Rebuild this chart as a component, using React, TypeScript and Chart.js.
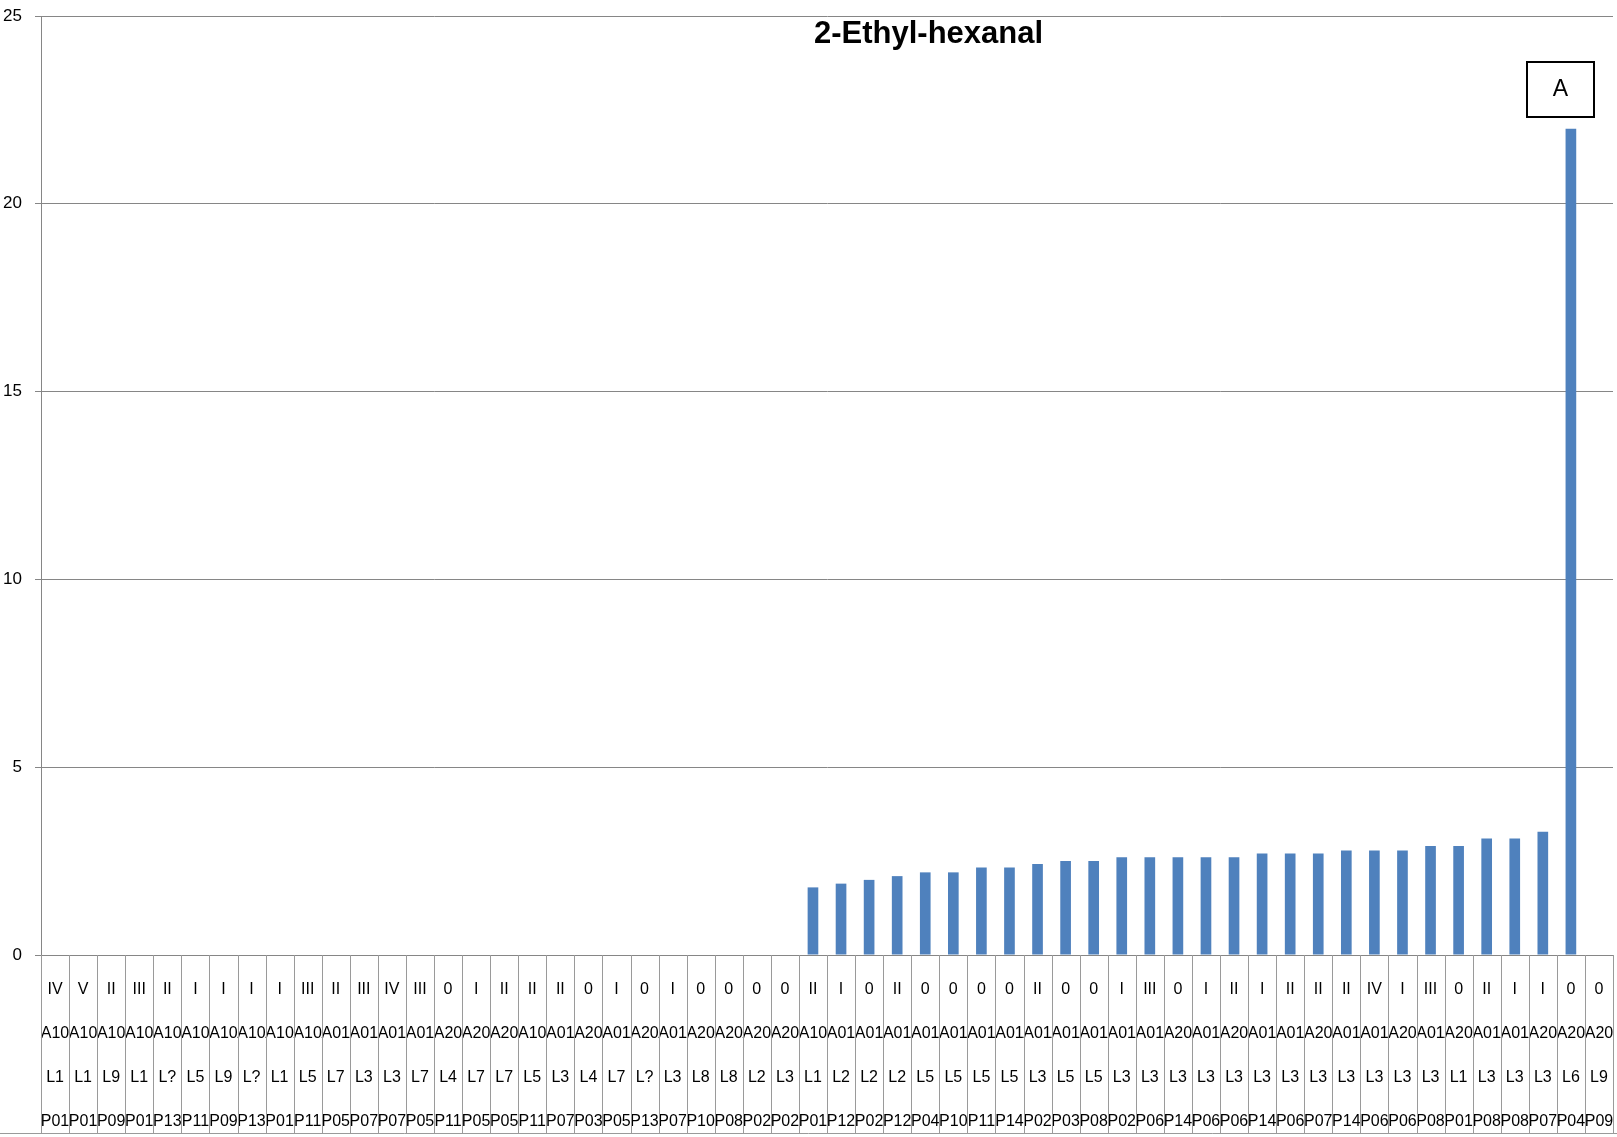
import { useEffect, useRef } from "react";
import { Chart, registerables } from "chart.js";

Chart.register(...registerables);

const classes = ["IV","V","II","III","II","I","I","I","I","III","II","III","IV","III","0","I","II","II","II","0","I","0","I","0","0","0","0","II","I","0","II","0","0","0","0","II","0","0","I","III","0","I","II","I","II","II","II","IV","I","III","0","II","I","I","0","0"];
const sites = ["A10","A10","A10","A10","A10","A10","A10","A10","A10","A10","A01","A01","A01","A01","A20","A20","A20","A10","A01","A20","A01","A20","A01","A20","A20","A20","A20","A10","A01","A01","A01","A01","A01","A01","A01","A01","A01","A01","A01","A01","A20","A01","A20","A01","A01","A20","A01","A01","A20","A01","A20","A01","A01","A20","A20","A20"];
const lines = ["L1","L1","L9","L1","L?","L5","L9","L?","L1","L5","L7","L3","L3","L7","L4","L7","L7","L5","L3","L4","L7","L?","L3","L8","L8","L2","L3","L1","L2","L2","L2","L5","L5","L5","L5","L3","L5","L5","L3","L3","L3","L3","L3","L3","L3","L3","L3","L3","L3","L3","L1","L3","L3","L3","L6","L9"];
const plots = ["P01","P01","P09","P01","P13","P11","P09","P13","P01","P11","P05","P07","P07","P05","P11","P05","P05","P11","P07","P03","P05","P13","P07","P10","P08","P02","P02","P01","P12","P02","P12","P04","P10","P11","P14","P02","P03","P08","P02","P06","P14","P06","P06","P14","P06","P07","P14","P06","P06","P08","P01","P08","P08","P07","P04","P09"];
const values = [0,0,0,0,0,0,0,0,0,0,0,0,0,0,0,0,0,0,0,0,0,0,0,0,0,0,0,1.8,1.9,2.0,2.1,2.2,2.2,2.33,2.33,2.42,2.5,2.5,2.6,2.6,2.6,2.6,2.6,2.7,2.7,2.7,2.78,2.78,2.78,2.9,2.9,3.1,3.1,3.28,22,0];
const yTicks = [0, 5, 10, 15, 20, 25];
const chartTitle = "2-Ethyl-hexanal";
const boxLabel = "A";

const FONT = '"Liberation Sans", Arial, sans-serif';
const GRID = "#868686";

export default function App() {
  const ref = useRef<HTMLCanvasElement>(null);

  useEffect(() => {
    document.body.style.margin = "0";
    const canvas = ref.current!;
    const labels = classes.map((c, i) => [c, sites[i], lines[i], plots[i]]);

    const tablePlugin = {
      id: "tableAndNotes",
      afterDraw(chart: any) {
        const ctx = chart.ctx as CanvasRenderingContext2D;
        const xs = chart.scales.x;
        const area = chart.chartArea;
        const n = labels.length;
        const top = area.bottom;
        const bottom = area.bottom + 178;
        ctx.save();
        ctx.strokeStyle = "#9a9a9a";
        ctx.lineWidth = 1;
        for (let i = 0; i <= n; i++) {
          const x = Math.round(xs.left + (i * xs.width) / n) + 0.5;
          ctx.beginPath();
          ctx.moveTo(x, top);
          ctx.lineTo(x, bottom);
          ctx.stroke();
        }
        ctx.beginPath();
        ctx.moveTo(0, bottom + 0.5);
        ctx.lineTo(chart.width, bottom + 0.5);
        ctx.stroke();

        // title
        ctx.fillStyle = "#000";
        ctx.font = `bold 31px ${FONT}`;
        ctx.textAlign = "center";
        ctx.textBaseline = "alphabetic";
        ctx.fillText(chartTitle, area.left + 0.5646 * area.width, 43);

        // "A" box
        const bx = area.right - 86;
        const by = 62;
        ctx.strokeStyle = "#000";
        ctx.lineWidth = 2;
        ctx.fillStyle = "#fff";
        ctx.fillRect(bx, by, 67, 55);
        ctx.strokeRect(bx, by, 67, 55);
        ctx.fillStyle = "#000";
        ctx.font = `23px ${FONT}`;
        ctx.textBaseline = "middle";
        ctx.fillText(boxLabel, bx + 33.5, by + 28);
        ctx.restore();
      },
    };

    const chart = new Chart(canvas, {
      type: "bar",
      data: {
        labels,
        datasets: [
          {
            data: values,
            backgroundColor: "#4F81BD",
            borderWidth: 0,
            categoryPercentage: 1,
            barPercentage: 0.38,
          },
        ],
      },
      options: {
        animation: false,
        responsive: false,
        layout: { padding: { left: 0, top: 16, right: 4, bottom: 0 } },
        plugins: {
          legend: { display: false },
          tooltip: { enabled: false },
          title: { display: false },
        },
        scales: {
          x: {
            grid: { display: false },
            border: { display: true, color: GRID },
            ticks: {
              autoSkip: false,
              maxRotation: 0,
              minRotation: 0,
              padding: 5,
              color: "#000",
              font: { family: FONT, size: 16, lineHeight: 2.75 },
            },
            afterFit(s: any) {
              s.height = 182;
              s.paddingLeft = 0;
              s.paddingRight = 0;
            },
          },
          y: {
            min: 0,
            max: 25,
            afterBuildTicks(s: any) {
              s.ticks = yTicks.map((v) => ({ value: v }));
            },
            grid: { color: GRID, tickLength: 6, drawTicks: true },
            border: { color: GRID },
            ticks: {
              padding: 13,
              color: "#000",
              font: { family: FONT, size: 17 },
            },
            afterFit(s: any) {
              s.width = 41;
              s.paddingTop = 0;
              s.paddingBottom = 0;
            },
          },
        },
      },
      plugins: [tablePlugin],
    });

    return () => chart.destroy();
  }, []);

  return (
    <div style={{ width: 1617, height: 1137 }}>
      <canvas ref={ref} width={1617} height={1137} style={{ display: "block" }} />
    </div>
  );
}
